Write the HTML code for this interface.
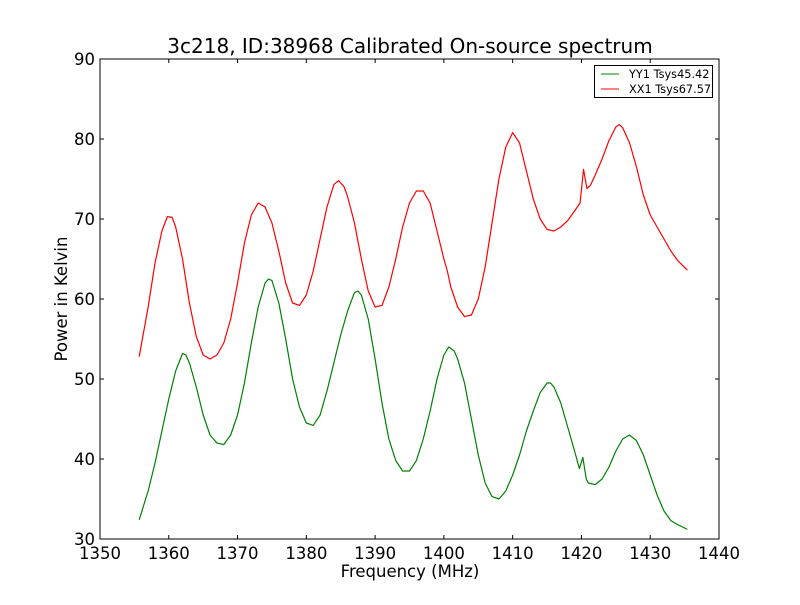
<!DOCTYPE html>
<html><head><meta charset="utf-8"><style>
html,body{margin:0;padding:0;background:#fff;}
svg text{font-family:"DejaVu Sans","Liberation Sans",sans-serif;}
</style></head><body>
<svg id="chart" width="800" height="600" xmlns="http://www.w3.org/2000/svg">
<rect width="800" height="600" fill="#fff"/>
<text x="410" y="53" font-size="20" text-anchor="middle">3c218, ID:38968 Calibrated On-source spectrum</text>
<g id="plot"></g>
<text x="410" y="577" font-size="16.5" text-anchor="middle">Frequency (MHz)</text>
<text x="67" y="299" font-size="16.5" text-anchor="middle" transform="rotate(-90 67 299)">Power in Kelvin</text>
<g>
<rect x="594.5" y="65.5" width="118" height="32" fill="#fff" stroke="#000" stroke-width="1"/>
<line x1="601" y1="74" x2="619" y2="74" stroke="green"/>
<text x="629" y="78" font-size="11.3">YY1 Tsys45.42</text>
<line x1="601" y1="89" x2="619" y2="89" stroke="red"/>
<text x="629" y="93" font-size="11.3">XX1 Tsys67.57</text>
</g>
</svg>
<script>
const xTicks=[1350,1360,1370,1380,1390,1400,1410,1420,1430,1440];
const yTicks=[30,40,50,60,70,80,90];
const yyFreq=[1355.7,1357,1358,1359,1360,1361,1362,1362.5,1363,1364,1365,1366,1367,1368,1369,1370,1371,1372,1373,1374,1374.5,1375,1376,1377,1378,1379,1380,1381,1382,1383,1384,1385,1386,1387,1387.5,1388,1389,1390,1391,1392,1393,1394,1395,1396,1397,1398,1399,1400,1400.7,1401.5,1402,1403,1404,1405,1406,1407,1408,1409,1410,1411,1412,1413,1414,1415,1415.5,1416,1417,1418,1419,1419.7,1420.2,1420.7,1421,1422,1423,1424,1425,1426,1427,1428,1429,1430,1431,1432,1433,1434,1435.4];
const yyPower=[32.4,36,39.5,43.5,47.5,51,53.2,53,52,49,45.5,43,42,41.8,43,45.5,49.5,54.5,59,62,62.5,62.3,59.5,55,50,46.5,44.5,44.2,45.5,48.5,52,55.5,58.5,60.8,61,60.5,57.5,52.5,47,42.5,39.8,38.5,38.5,39.8,42.5,46,50,53,54,53.5,52.5,49.5,45,40.5,37,35.3,35,36,38,40.5,43.5,46,48.3,49.5,49.5,49,47,44,41,38.8,40.2,37.5,37,36.8,37.5,39,41,42.5,43,42.3,40.5,38,35.5,33.5,32.3,31.8,31.2];
const xxFreq=[1355.7,1357,1358,1359,1359.8,1360.5,1361,1362,1363,1364,1365,1366,1367,1368,1369,1370,1371,1372,1373,1374,1375,1376,1377,1378,1379,1380,1381,1382,1383,1384,1384.7,1385.5,1386,1387,1388,1389,1390,1391,1392,1393,1394,1395,1396,1397,1398,1399,1400,1400.5,1401,1402,1403,1404,1405,1406,1407,1408,1409,1410,1411,1412,1413,1414,1415,1416,1417,1418,1419,1419.8,1420.3,1420.8,1421.3,1422,1423,1424,1425,1425.5,1426,1427,1428,1429,1430,1431,1432,1433,1434,1435.4];
const xxPower=[52.8,59,64.5,68.5,70.3,70.2,69,65,59.5,55.3,53,52.5,53,54.5,57.5,62,67,70.5,72,71.5,69.5,66,62,59.5,59.2,60.5,63.5,67.5,71.5,74.3,74.8,74,72.8,69.5,65,61,59,59.2,61.5,65,69,72,73.5,73.5,72,68.5,65,63.5,61.5,59,57.8,58,60,64,69.5,75,79,80.8,79.5,76,72.5,70,68.7,68.5,69,69.8,71,72,76.2,73.8,74.2,75.5,77.5,79.8,81.5,81.8,81.4,79.5,76.5,73,70.5,69,67.5,66,64.8,63.6];
const L=100,R=719,T=59,B=539;
const xs=v=>L+(v-1350)/90*(R-L);
const ys=v=>B-(v-30)/60*(B-T);
const NS="http://www.w3.org/2000/svg";
const g=document.getElementById('plot');
function mk(tag,attrs){const e=document.createElementNS(NS,tag);for(const k in attrs)e.setAttribute(k,attrs[k]);g.appendChild(e);return e;}
function series(f,p,color,name){
  const pts=f.map((v,i)=>xs(v).toFixed(2)+','+ys(p[i]).toFixed(2)).join(' ');
  const e=mk('polyline',{points:pts,fill:'none',stroke:color,'stroke-width':1.2,'stroke-linejoin':'round'});
  
  
}
series(yyFreq,yyPower,'green','yy1-line');
series(xxFreq,xxPower,'red','xx1-line');
xTicks.forEach(t=>{
  const x=xs(t);
  mk('line',{x1:x,y1:B,x2:x,y2:B-4,stroke:'#000'});
  mk('line',{x1:x,y1:T,x2:x,y2:T+4,stroke:'#000'});
  const tx=mk('text',{x:x,y:B+20,'font-size':16.5,'text-anchor':'middle'});
  tx.textContent=t;
  
  
});
yTicks.forEach(t=>{
  const y=ys(t);
  mk('line',{x1:L,y1:y,x2:L+4,y2:y,stroke:'#000'});
  mk('line',{x1:R,y1:y,x2:R-4,y2:y,stroke:'#000'});
  const tx=mk('text',{x:L-5,y:y+6,'font-size':16.5,'text-anchor':'end'});
  tx.textContent=t;
  
  
});
const fr=mk('rect',{x:L,y:T,width:R-L,height:B-T,fill:'none',stroke:'#000','stroke-width':1});


</script>
</body></html>
